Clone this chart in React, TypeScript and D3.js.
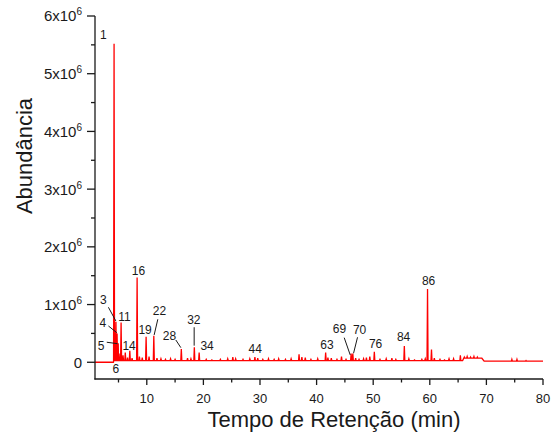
import React, { useEffect, useRef } from 'react';
import * as d3 from 'd3';

// apex of each peak: retention time (min) and abundance (x10^6)
const peakTimes = [
	4.22, 4.55, 4.75, 4.95, 5.1, 5.46, 5.8, 6.2, 6.6, 7.0, 7.4, 8.29, 8.7, 9.2, 9.88, 10.4,
	11.24, 11.8, 12.5, 13.3, 14.2, 15.0, 16.1, 17.2, 17.8, 18.4, 19.25, 20.5, 21.5, 23.0,
	24.3, 25.2, 25.7, 27.0, 28.2, 29.1, 29.6, 30.5, 31.5, 32.5, 33.3, 34.5, 35.5, 36.9,
	37.4, 38.0, 39.0, 40.2, 41.6, 42.0, 42.6, 43.6, 44.4, 45.2, 46.1, 46.4, 46.9, 47.5,
	48.3, 48.8, 49.4, 50.2, 51.2, 52.3, 53.3, 54.0, 55.5, 56.3, 57.3, 58.6, 59.2, 59.6,
	60.3, 60.8, 61.8, 62.6, 63.4, 64.2, 65.4, 66.1, 66.6, 67.2, 67.8, 68.4, 74.5, 75.4, 77.0,
];
const peakHeights = [
	5.52, 0.7, 0.5, 0.33, 0.15, 0.69, 0.12, 0.17, 0.08, 0.2, 0.07, 1.47, 0.1, 0.08, 0.44, 0.1,
	0.46, 0.07, 0.06, 0.05, 0.06, 0.05, 0.23, 0.07, 0.06, 0.26, 0.17, 0.05, 0.04, 0.05,
	0.06, 0.09, 0.06, 0.05, 0.06, 0.09, 0.07, 0.05, 0.06, 0.05, 0.06, 0.05, 0.06, 0.14,
	0.09, 0.08, 0.05, 0.06, 0.17, 0.08, 0.07, 0.05, 0.1, 0.05, 0.15, 0.15, 0.07, 0.05,
	0.06, 0.08, 0.1, 0.18, 0.05, 0.06, 0.07, 0.05, 0.28, 0.06, 0.04, 0.05, 0.06, 1.27,
	0.22, 0.07, 0.05, 0.04, 0.06, 0.06, 0.12, 0.09, 0.1, 0.09, 0.1, 0.09, 0.05, 0.05, 0.03,
];

// baseline level of the trace
const baseTimes = [0.85, 4.1, 4.3, 65.8, 66.0, 69.2, 69.6, 80];
const baseLevels = [0, 0, 0.03, 0.03, 0.07, 0.07, 0.02, 0.02];

// peak annotations (position in data units)
const labelNames = ['1', '3', '4', '5', '6', '11', '14', '16', '19', '22', '28', '32', '34', '44', '63', '69', '70', '76', '84', '86'];
const labelTimes = [2.33, 2.33, 2.23, 1.93, 4.53, 6.05, 6.88, 8.52, 9.7, 12.23, 14.0, 18.31, 20.66, 29.15, 41.82, 44.05, 47.59, 50.42, 55.37, 59.79];
const labelLevels = [5.67, 1.09, 0.686, 0.288, -0.111, 0.79, 0.295, 1.59, 0.56, 0.894, 0.461, 0.745, 0.288, 0.23, 0.3, 0.577, 0.56, 0.322, 0.444, 1.414];

// leader lines: [t1, v1, t2, v2]
const leaders = [
	[3.22, 0.953, 4.53, 0.716],
	[3.22, 0.629, 4.7, 0.513],
	[2.93, 0.347, 4.81, 0.322],
	[11.95, 0.745, 11.3, 0.473],
	[15.13, 0.386, 16.02, 0.253],
	[18.37, 0.607, 18.37, 0.288],
	[44.88, 0.426, 45.94, 0.127],
	[47.23, 0.433, 46.53, 0.156],
];

const xTicks = [10, 20, 30, 40, 50, 60, 70, 80];
const xMinor = [5, 15, 25, 35, 45, 55, 65, 75];
const yTicks = [0, 1, 2, 3, 4, 5, 6];
const yMinor = [0.5, 1.5, 2.5, 3.5, 4.5, 5.5];

const W = 552;
const H = 437;
const left = 95;
const right = 543;
const top = 16;
const bottom = 379;
const font = '"Liberation Sans", Arial, sans-serif';
const ink = '#1a1a1a';

export default function App() {
	const ref = useRef<SVGSVGElement>(null);

	useEffect(() => {
		const svg = d3.select(ref.current);
		svg.selectAll('*').remove();

		const x = d3.scaleLinear().domain([0.85, 80]).range([left, right]);
		const y = d3.scaleLinear().domain([-0.29, 6]).range([bottom, top]);
		const base = d3.scaleLinear().domain(baseTimes).range(baseLevels);

		// build trace vertices
		const pts: [number, number][] = baseTimes.map((t, i) => [t, baseLevels[i]]);
		const w = 0.09;
		peakTimes.forEach((t, i) => {
			pts.push([t - w, base(t - w)]);
			pts.push([t, peakHeights[i]]);
			pts.push([t + w, base(t + w)]);
		});
		pts.sort((a, b) => a[0] - b[0]);

		const line = d3
			.line<[number, number]>()
			.x((d) => x(d[0]))
			.y((d) => y(d[1]));

		svg
			.append('path')
			.attr('d', line(pts))
			.attr('fill', 'none')
			.attr('stroke', '#ff0000')
			.attr('stroke-width', 1.3)
			.attr('stroke-linejoin', 'miter');

		// axes
		const ax = svg.append('g').attr('stroke', ink).attr('stroke-width', 1.3);
		ax.append('line').attr('x1', left).attr('x2', left).attr('y1', top).attr('y2', bottom + 0.6);
		ax.append('line').attr('x1', left - 0.6).attr('x2', right).attr('y1', bottom).attr('y2', bottom);

		yTicks.forEach((v) => {
			ax.append('line').attr('x1', left - 8).attr('x2', left).attr('y1', y(v)).attr('y2', y(v));
		});
		yMinor.forEach((v) => {
			ax.append('line').attr('x1', left - 4).attr('x2', left).attr('y1', y(v)).attr('y2', y(v));
		});
		xTicks.forEach((t) => {
			ax.append('line').attr('x1', x(t)).attr('x2', x(t)).attr('y1', bottom).attr('y2', bottom + 6);
		});
		xMinor.forEach((t) => {
			ax.append('line').attr('x1', x(t)).attr('x2', x(t)).attr('y1', bottom).attr('y2', bottom + 3.5);
		});

		// tick labels
		const tl = svg.append('g').attr('font-family', font).attr('fill', ink);
		yTicks.forEach((v) => {
			const t = tl
				.append('text')
				.attr('x', left - 13)
				.attr('y', y(v) + 5.4)
				.attr('text-anchor', 'end')
				.attr('font-size', 15);
			if (v === 0) {
				t.text('0');
			} else {
				t.append('tspan').text(`${v}x10`);
				t.append('tspan').attr('dy', -6).attr('font-size', 10).text('6');
			}
		});
		xTicks.forEach((t) => {
			tl.append('text')
				.attr('x', x(t))
				.attr('y', 403)
				.attr('text-anchor', 'middle')
				.attr('font-size', 13)
				.text(t);
		});

		// axis titles
		tl.append('text')
			.attr('x', (left + right) / 2 + 15)
			.attr('y', 427)
			.attr('text-anchor', 'middle')
			.attr('font-size', 22)
			.text('Tempo de Retenção (min)');
		tl.append('text')
			.attr('transform', `translate(32,156) rotate(-90)`)
			.attr('text-anchor', 'middle')
			.attr('font-size', 22)
			.text('Abundância');

		// annotations
		const an = svg.append('g');
		leaders.forEach((l) => {
			an.append('line')
				.attr('x1', x(l[0]))
				.attr('y1', y(l[1]))
				.attr('x2', x(l[2]))
				.attr('y2', y(l[3]))
				.attr('stroke', ink)
				.attr('stroke-width', 1);
		});
		labelNames.forEach((n, i) => {
			an.append('text')
				.attr('x', x(labelTimes[i]))
				.attr('y', y(labelLevels[i]) + 4.3)
				.attr('text-anchor', 'middle')
				.attr('font-family', font)
				.attr('font-size', 12)
				.attr('fill', ink)
				.text(n);
		});
	}, []);

	return (
		<svg
			ref={ref}
			width={W}
			height={H}
			style={{ position: 'absolute', left: 0, top: 0, background: '#fff' }}
		/>
	);
}
